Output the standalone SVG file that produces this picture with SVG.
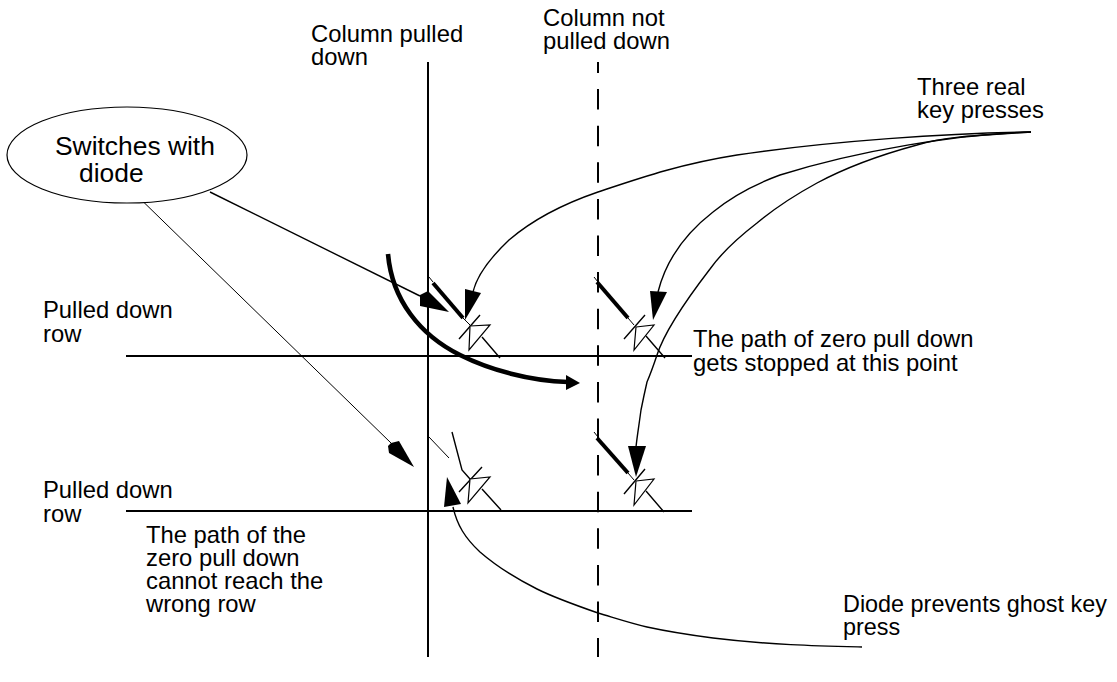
<svg xmlns="http://www.w3.org/2000/svg" width="1117" height="682" viewBox="0 0 1117 682">
<style>
text{font-family:"Liberation Sans",Arial,sans-serif;font-size:23.8px;fill:#000}
.l{fill:none;stroke:#000;stroke-width:2}
.t{fill:none;stroke:#000;stroke-width:1}
.k{fill:none;stroke:#000;stroke-width:1.4}
.h{fill:none;stroke:#000;stroke-width:4}
.a{fill:#000;stroke:none}
.d{fill:#fff;stroke:#000;stroke-width:1.2}
</style>
<rect width="1117" height="682" fill="#fff"/>
<g id="wires">
<path class="l" d="M428 62V657"/>
<path class="l" d="M598 62V657" stroke-dasharray="20.5 16.1" stroke-dashoffset="9.5"/>
<path class="l" d="M126 356H692"/>
<path class="l" d="M126 511H692"/>
</g>
<g id="connectors">
<path class="k" d="M210 192L420 296"/>
<path class="a" d="M420 295L428 291L449 312L420 306Z"/>
<path class="t" d="M125 184L391 443"/>
<path class="a" d="M391 443L399 441L414 467L389 453L388 446Z"/>
<path class="k" d="M1031 132C950 133 830 141 737 155C680 164 640 178 598 192C560 205 530 222 509 240C490 258 477 275 473 292"/>
<path class="a" d="M465 320L465 289L481 293Z"/>
<path class="k" d="M1031 132C960 134 860 150 780 175C750 186 730 198 713 212C695 226 668 252 658 292"/>
<path class="a" d="M653 320L650 291L667 292Z"/>
<path class="k" d="M1031 132C990 135 950 135 917 145C880 155 845 168 817 183C795 195 775 208 757 223C735 240 720 255 710 269C690 295 665 330 657 355C652 370 650 375 647 382C644 395 642 405 641 410C639 425 637 437 636 447"/>
<path class="a" d="M636 477L628 446L646 446Z"/>
<path class="k" d="M862 647C820 646 770 645 713 638C690 635 670 632 647 627C630 623 615 618 598 613C575 605 555 598 537 589C515 578 495 565 480 552C465 538 457 525 453 507"/>
<path class="a" d="M447 477L444 507L461 504Z"/>
<path class="h" style="stroke-width:4.6" d="M388 254C392 300 420 335 460 355C490 370 530 381 568 382"/>
<path class="a" d="M566 375L580 383L566 390Z"/>
</g>
<g id="switch-1">
<path class="t" d="M429 277L433 282M463 318L470 325"/>
<path class="h" d="M433 283L463 318"/>
<path class="k" d="M459 339L480 315M482 337L500 358"/>
<path class="d" d="M470 326L490 325L469 350Z"/>
</g>
<g id="switch-2">
<path class="t" d="M594 277L598 282M628 318L634 325"/>
<path class="h" d="M597 282L628 318"/>
<path class="k" d="M624 339L645 315M646 336L665 358"/>
<path class="d" d="M636 327L654 325L634 350Z"/>
</g>
<g id="switch-3">
<path class="t" d="M429 437L449 458"/>
<path class="k" d="M452 432L462 470L470 479M459 492L482 467M482 489L501 510"/>
<path class="d" d="M470 479L490 477L468 503Z"/>
</g>
<g id="switch-4">
<path class="t" d="M594 432L598 437M628 473L634 480"/>
<path class="h" d="M597 438L628 473"/>
<path class="k" d="M624 494L645 469M646 491L664 512"/>
<path class="d" d="M636 481L654 479L634 505Z"/>
</g>
<g id="legend">
<ellipse cx="127" cy="155" rx="120" ry="48" fill="#fff" stroke="#000" stroke-width="1.2"/>
<text x="55" y="155" style="font-size:26.4px">Switches with</text>
<text x="79" y="182" style="font-size:26.4px">diode</text>
</g>
<g id="labels">
<text x="311" y="42">Column pulled</text>
<text x="311" y="65">down</text>
<text x="543" y="26">Column not</text>
<text x="543" y="49">pulled down</text>
<text x="917" y="95">Three real</text>
<text x="917" y="118">key presses</text>
<text x="43" y="318">Pulled down</text>
<text x="43" y="342">row</text>
<text x="43" y="498">Pulled down</text>
<text x="43" y="522">row</text>
<text x="693" y="347">The path of zero pull down</text>
<text x="693" y="371">gets stopped at this point</text>
<text x="146" y="543">The path of the</text>
<text x="146" y="566">zero pull down</text>
<text x="146" y="589">cannot reach the</text>
<text x="146" y="612">wrong row</text>
<text x="843" y="612" style="font-size:23.4px">Diode prevents ghost key</text>
<text x="843" y="635" style="font-size:23.4px">press</text>
</g>
</svg>
